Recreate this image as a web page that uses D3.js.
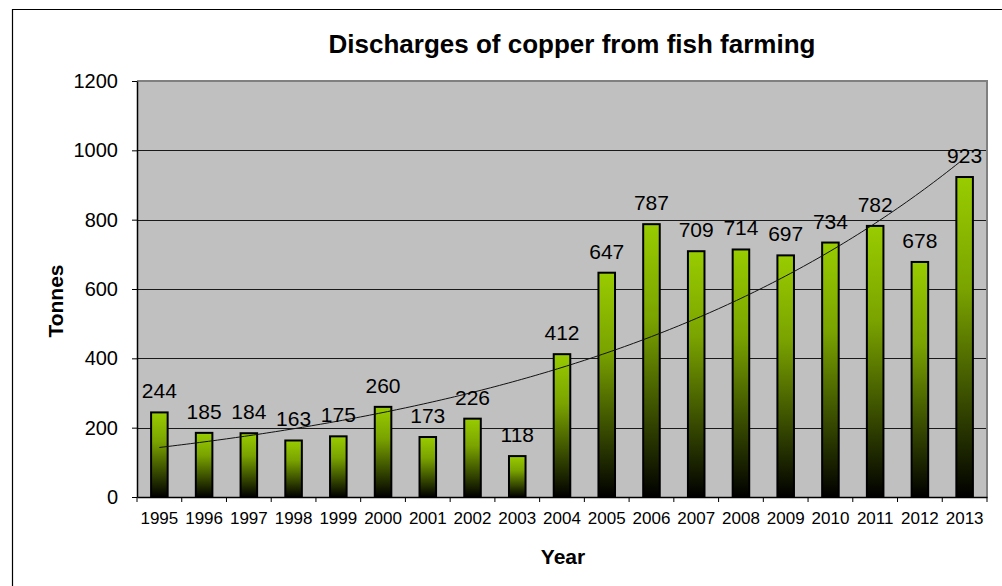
<!DOCTYPE html>
<html>
<head>
<meta charset="utf-8">
<script src="https://cdn.jsdelivr.net/npm/d3@7"></script>
<style>
  html, body { margin: 0; padding: 0; background: #fff; }
  svg { display: block; font-family: "Liberation Sans", Arial, sans-serif; }
</style>
</head>
<body>
<svg id="chart" width="1002" height="586"></svg>
<script>
// Copper discharges from fish farming, tonnes per year
const years = ["1995","1996","1997","1998","1999","2000","2001","2002","2003","2004",
               "2005","2006","2007","2008","2009","2010","2011","2012","2013"];
const tonnes = [244,185,184,163,175,260,173,226,118,412,647,787,709,714,697,734,782,678,923];
const yTicks = [0,200,400,600,800,1000,1200];

const svg = d3.select("#chart");
const plot = { left: 137, right: 987, top: 81, bottom: 497 };

// Outer chart frame (left and top edges)
svg.append("path")
  .attr("d", "M12.5,586 V9.5 H1002")
  .attr("fill", "none").attr("stroke", "#000").attr("stroke-width", 1.2);

const x = d3.scaleBand().domain(years).range([plot.left, plot.right]).paddingInner(0).paddingOuter(0);
const y = d3.scaleLinear().domain([0, 1200]).range([plot.bottom, plot.top]);

// Bar fill: bright green at the top fading to black at the base
const defs = svg.append("defs");
const grad = defs.append("linearGradient").attr("id", "barFill")
  .attr("x1", 0).attr("y1", 0).attr("x2", 0).attr("y2", 1);
grad.append("stop").attr("offset", "0%").attr("stop-color", "#99cc00");
grad.append("stop").attr("offset", "35%").attr("stop-color", "#7aa300");
grad.append("stop").attr("offset", "100%").attr("stop-color", "#000000");

// Plot background
svg.append("rect")
  .attr("x", plot.left).attr("y", plot.top)
  .attr("width", plot.right - plot.left).attr("height", plot.bottom - plot.top)
  .attr("fill", "#c0c0c0");

// Horizontal gridlines
svg.append("g").selectAll("line")
  .data(yTicks.filter(t => t > 0 && t < 1200))
  .join("line")
  .attr("x1", plot.left).attr("x2", plot.right)
  .attr("y1", d => Math.round(y(d)) + 0.5).attr("y2", d => Math.round(y(d)) + 0.5)
  .attr("stroke", "#1a1a1a").attr("stroke-width", 1);

// Plot border on top and right
svg.append("path")
  .attr("d", `M${plot.left},${plot.top} H${plot.right} V${plot.bottom}`)
  .attr("fill", "none").attr("stroke", "#808080").attr("stroke-width", 2);

// Bars
const barW = x.bandwidth() * 0.37;
svg.append("g").selectAll("rect")
  .data(tonnes)
  .join("rect")
  .attr("x", (d, i) => x(years[i]) + (x.bandwidth() - barW) / 2)
  .attr("y", d => y(d))
  .attr("width", barW)
  .attr("height", d => y(0) - y(d))
  .attr("fill", "url(#barFill)")
  .attr("stroke", "#000").attr("stroke-width", 2);

// Exponential trend line fitted to the series (least squares on log values)
const n = tonnes.length;
const xs = d3.range(1, n + 1);
const lnY = tonnes.map(v => Math.log(v));
const mx = d3.mean(xs), my = d3.mean(lnY);
const b = d3.sum(xs, (xi, i) => (xi - mx) * (lnY[i] - my)) / d3.sum(xs, xi => (xi - mx) ** 2);
const a = my - b * mx;
const xIdx = d3.scaleLinear().domain([1, n])
  .range([x(years[0]) + x.bandwidth() / 2, x(years[n - 1]) + x.bandwidth() / 2]);
const trendPts = d3.range(1, n + 0.001, 0.1).map(t => [xIdx(t), y(Math.exp(a + b * t))]);
svg.append("path")
  .attr("d", d3.line()(trendPts))
  .attr("fill", "none").attr("stroke", "#111").attr("stroke-width", 1);

// Value labels above bars
svg.append("g").selectAll("text")
  .data(tonnes)
  .join("text")
  .attr("x", (d, i) => x(years[i]) + x.bandwidth() / 2)
  .attr("y", d => y(d) - 14)
  .attr("text-anchor", "middle")
  .attr("font-size", 21)
  .attr("fill", "#000")
  .text(d => d);

// Y axis
const yAxis = svg.append("g")
  .attr("transform", `translate(${plot.left},0)`)
  .call(d3.axisLeft(y).tickValues(yTicks).tickFormat(d3.format("d"))
    .tickSize(5).tickPadding(14).tickSizeOuter(0));
yAxis.select(".domain").attr("stroke", "#000").attr("stroke-width", 1.5);
yAxis.selectAll(".tick line").attr("stroke", "#000");
yAxis.selectAll(".tick text").attr("font-size", 20).attr("fill", "#000")
  .attr("font-family", "Liberation Sans, Arial, sans-serif");

// X axis: labels centred on categories, ticks on category boundaries
const xAxis = svg.append("g")
  .attr("transform", `translate(0,${plot.bottom})`)
  .call(d3.axisBottom(x).tickSize(0).tickPadding(15));
xAxis.select(".domain").attr("stroke", "#000").attr("stroke-width", 1.5);
xAxis.selectAll(".tick text").attr("font-size", 17).attr("fill", "#000")
  .attr("font-family", "Liberation Sans, Arial, sans-serif");
const bounds = years.map(yr => x(yr)).concat([plot.right]);
svg.append("g").selectAll("line")
  .data(bounds)
  .join("line")
  .attr("x1", d => d).attr("x2", d => d)
  .attr("y1", plot.bottom).attr("y2", plot.bottom + 5)
  .attr("stroke", "#000").attr("stroke-width", 1);

// Titles
svg.append("text")
  .attr("x", 572).attr("y", 53)
  .attr("text-anchor", "middle")
  .attr("font-size", 26).attr("font-weight", "bold")
  .text("Discharges of copper from fish farming");

svg.append("text")
  .attr("transform", "translate(63,301) rotate(-90)")
  .attr("text-anchor", "middle")
  .attr("font-size", 21).attr("font-weight", "bold")
  .text("Tonnes");

svg.append("text")
  .attr("x", 563).attr("y", 564)
  .attr("text-anchor", "middle")
  .attr("font-size", 21).attr("font-weight", "bold")
  .text("Year");
</script>
</body>
</html>
